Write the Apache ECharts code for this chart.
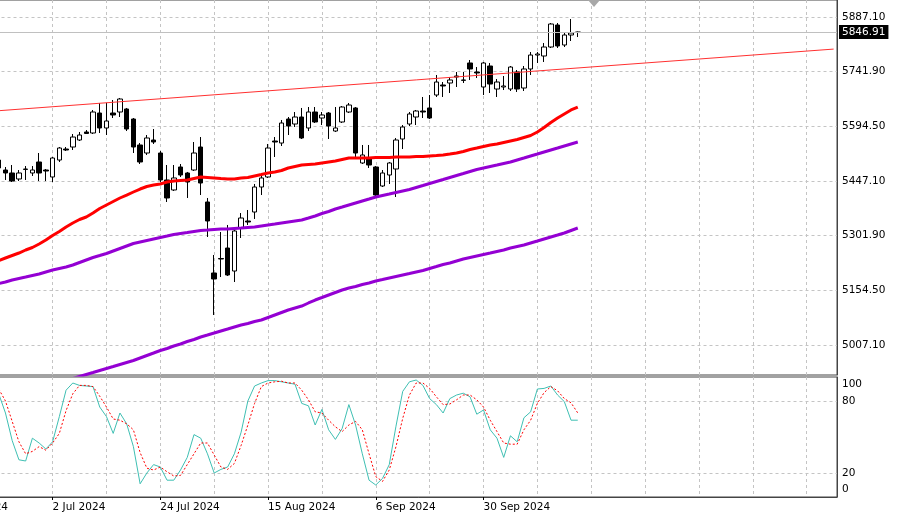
<!DOCTYPE html>
<html><head><meta charset="utf-8">
<script src="https://cdn.jsdelivr.net/npm/echarts@6/dist/echarts.min.js"></script>
<style>html,body{margin:0;padding:0;background:#fff}#c{width:900px;height:521px}</style>
</head><body><div id="c"></div>
<script>
// ---- categories ----
const startDate = '2024-06-10';
const categoryCount = 133;
const firstBarIndex = 8; // first visible candle: 20 Jun 2024

// ---- candles (20 Jun 2024 .. 18 Oct 2024) ----
const opens = [5503.4,5476.6,5468.6,5452.5,5478.0,5468.6,5498.1,5476.6,5457.9,5503.4,
5532.9,5538.3,5557.1,5578.6,5575.9,5629.5,5589.3,5629.5,5632.2,5640.3,
5613.4,5543.7,5522.2,5557.1,5522.2,5449.8,5423.0,5484.7,5468.6,5476.6,
5538.3,5390.8,5200.3,5239.2,5267.3,5205.6,5321.0,5339.8,5363.9,5431.0,
5457.9,5554.4,5549.0,5613.4,5600.0,5618.8,5589.3,5632.2,5616.1,5629.5,
5581.2,5605.4,5632.2,5643.0,5495.4,5506.1,5484.7,5433.7,5463.2,5479.3,
5559.8,5600.0,5618.8,5634.9,5643.0,5677.8,5704.7,5710.0,5726.1,5718.1,
5763.7,5739.5,5699.3,5755.6,5693.9,5699.3,5693.9,5739.5,5696.6,5747.6,
5785.1,5782.5,5806.6,5865.6,5812.0,5838.8,5845.5];
const closes = [5482.0,5468.6,5447.1,5468.6,5479.3,5476.6,5468.6,5473.9,5508.8,5535.6,
5530.3,5565.1,5570.5,5574.6,5632.2,5589.3,5608.1,5624.2,5667.1,5586.6,
5538.3,5498.1,5562.5,5551.7,5449.8,5401.5,5455.2,5463.2,5444.4,5522.2,
5441.7,5339.8,5184.2,5237.8,5194.9,5313.0,5347.8,5337.1,5431.0,5455.2,
5535.6,5551.7,5602.7,5594.7,5618.8,5562.5,5632.2,5605.4,5624.2,5594.7,
5589.3,5645.6,5651.0,5522.2,5516.9,5490.0,5409.5,5468.6,5495.4,5557.1,
5592.0,5626.9,5634.9,5632.2,5616.1,5712.7,5702.0,5718.1,5728.8,5717.2,
5747.6,5736.9,5763.7,5707.3,5712.7,5702.0,5752.9,5693.9,5747.6,5785.1,
5787.8,5806.6,5868.3,5809.3,5838.8,5844.2,5846.91];
const lows = [5476.6,5449.8,5444.4,5447.1,5449.8,5460.5,5447.1,5447.1,5444.4,5498.1,
5527.6,5530.3,5554.4,5573.2,5573.2,5575.9,5570.5,5616.1,5618.8,5581.2,
5522.2,5492.7,5516.9,5546.4,5444.4,5390.8,5420.3,5457.9,5401.5,5473.9,
5409.5,5296.9,5087.6,5189.5,5192.2,5176.1,5294.2,5329.1,5345.2,5409.5,
5455.2,5511.5,5541.0,5570.5,5592.0,5559.8,5581.2,5602.7,5597.3,5559.8,
5578.6,5602.7,5629.5,5511.5,5492.7,5482.0,5401.5,5431.0,5439.1,5404.2,
5532.9,5594.7,5597.3,5616.1,5613.4,5672.5,5672.5,5683.2,5699.3,5710.0,
5718.1,5723.4,5677.8,5683.2,5672.5,5691.2,5688.6,5685.9,5688.6,5731.5,
5763.7,5766.4,5803.9,5803.9,5806.6,5822.7,5833.4];
const highs = [5511.5,5484.7,5490.0,5476.6,5487.3,5487.3,5522.2,5479.3,5511.5,5538.3,
5538.3,5573.2,5578.6,5583.9,5637.6,5656.4,5656.4,5664.4,5669.8,5643.0,
5616.1,5549.0,5570.5,5586.6,5527.6,5490.0,5490.0,5492.7,5471.3,5551.7,
5565.1,5401.5,5248.6,5310.3,5329.1,5323.7,5361.2,5369.3,5439.1,5463.2,
5546.4,5565.1,5610.8,5618.8,5632.2,5643.0,5645.6,5645.6,5632.2,5632.2,
5645.6,5648.3,5656.4,5645.6,5543.7,5543.7,5487.3,5476.6,5498.1,5562.5,
5597.3,5632.2,5637.6,5672.5,5677.8,5731.5,5712.7,5726.1,5739.5,5739.5,
5771.7,5752.9,5766.4,5763.7,5720.8,5728.8,5755.6,5744.9,5755.6,5793.2,
5793.2,5817.3,5871.0,5871.0,5844.2,5881.7,5848.0];

// ---- moving averages ----
const maRed = [5233.8,5240.5,5247.2,5253.9,5262.0,5268.7,5278.1,5288.8,5300.9,5311.6,
5323.7,5334.4,5343.8,5350.5,5361.3,5373.3,5382.7,5392.1,5401.5,5409.5,
5417.6,5425.6,5432.4,5436.4,5439.1,5444.4,5447.1,5448.5,5449.8,5453.8,
5457.8,5456.5,5455.2,5453.8,5452.5,5452.5,5455.2,5456.5,5460.5,5464.5,
5468.6,5471.3,5475.3,5482.0,5486.0,5490.0,5491.4,5492.7,5495.4,5498.1,
5500.8,5504.8,5508.8,5508.8,5508.8,5508.8,5510.2,5510.2,5510.2,5511.5,
5511.5,5511.5,5512.8,5512.8,5514.2,5515.5,5516.9,5519.5,5522.2,5526.3,
5531.6,5535.6,5539.7,5543.7,5546.4,5550.4,5554.4,5558.4,5563.8,5569.2,
5578.6,5590.6,5604.1,5616.1,5626.9,5637.6,5645.6];
const maPurpleFast = [5172.1,5176.1,5181.5,5185.5,5189.5,5193.6,5197.6,5203.0,5208.3,5212.4,
5216.4,5221.7,5228.5,5235.2,5241.9,5247.2,5252.6,5259.3,5266.0,5272.7,
5279.4,5283.5,5287.5,5291.5,5295.5,5299.5,5303.6,5306.3,5308.9,5311.6,
5314.3,5315.6,5317.0,5318.3,5318.3,5319.7,5321.0,5322.4,5323.7,5326.4,
5329.1,5331.7,5334.4,5337.1,5339.8,5342.5,5347.8,5353.2,5359.9,5365.3,
5372.0,5377.3,5382.7,5388.1,5393.5,5398.8,5404.2,5408.2,5412.2,5416.3,
5420.3,5424.3,5429.7,5435.0,5440.4,5445.8,5451.1,5456.5,5461.9,5467.2,
5472.6,5478.0,5482.0,5486.0,5490.0,5494.1,5498.1,5503.5,5508.8,5514.2,
5519.5,5524.9,5530.3,5535.6,5541.0,5546.4,5551.7];
const maPurpleSlowOffset = 11; // starts 11 bars after the first candle
const maPurpleSlow = [4917.2,4922.6,4928.0,4933.3,4938.7,4944.1,4949.4,4954.8,4960.2,4965.5,
4972.2,4978.9,4985.6,4992.4,4997.7,5004.4,5009.8,5016.5,5021.9,5028.6,
5033.9,5039.3,5044.7,5050.0,5055.4,5060.8,5064.8,5070.2,5074.2,5080.9,
5087.6,5094.3,5101.0,5106.4,5111.7,5119.8,5127.8,5134.5,5141.3,5148.0,
5154.7,5160.0,5164.1,5169.4,5173.5,5178.8,5182.8,5186.9,5190.9,5194.9,
5198.9,5203.0,5207.0,5212.4,5217.7,5223.1,5227.1,5232.5,5237.8,5241.9,
5245.9,5249.9,5253.9,5258.0,5262.0,5267.4,5271.4,5275.4,5280.8,5286.1,
5291.5,5296.9,5302.2,5307.6,5314.3,5321.0];

// ---- trend line anchors ----
const trendDates = ['2024-06-10', '2024-12-11'];
const trendValues = [5625.0, 5801.0];

// ---- stochastic ----
const stochMain = [86,70,47,31,30,49,45,40,46,67,
89,95,93,92.5,92,75,67,53,70,61,
42,11,20,27,25,14,14,22.5,33,52,
49,36,20,23,25,36,54,80,92.5,95,
97,97,96,95,94,78,76,60,73,56,
48,57,77,60,36,14,10,15.5,27,59,
88,96,97.5,93,82,77,70,82,85,86.5,
83.5,69,72.5,56,49,33,51,46,66,71,
90,90.5,92.5,85,79.5,64,64];
const stochSignal = [90,80,63,46,36,38,42,39,45,53,
72,86,93,93,92,84,75,65,64,61,
56,37,24,22.5,25,21,17.5,18,27,36,
45,45,35,25,23,28,43,60,78,92,
95,96,96.5,95,95,89,81,71,70,64,
58.5,54.5,60,63,56,36,17,13,22.5,42,
65.5,85,95,95,90.5,83.5,77,77.5,81,85,
85,81,75,64,54.5,45,44,44,56,64,
78,87,92,88.5,82,78.5,70];

// ---- axis ticks ----
const priceTicks = [5887.10, 5741.90, 5594.50, 5447.10, 5301.90, 5154.50, 5007.10];
const stochLabels = [0, 20, 80, 100];
const stochLevels = [20, 80];
const lastPrice = 5846.91;

// ---- build ----
const dates = [];
(function () {
  const d = new Date(startDate + 'T00:00:00Z');
  while (dates.length < categoryCount) {
    const wd = d.getUTCDay();
    if (wd !== 0 && wd !== 6) dates.push(d.toISOString().slice(0, 10));
    d.setUTCDate(d.getUTCDate() + 1);
  }
})();
const lastDataIndex = firstBarIndex + opens.length - 1;
const MONTHS = ['Jan','Feb','Mar','Apr','May','Jun','Jul','Aug','Sep','Oct','Nov','Dec'];
function fmtDate(v) {
  const p = v.split('-');
  return (+p[2]) + ' ' + MONTHS[+p[1] - 1] + ' ' + p[0];
}
const candleData = opens.map((o, k) => [dates[firstBarIndex + k], o, closes[k], lows[k], highs[k]]);
function pairs(arr, offset) { return arr.map((v, k) => [dates[offset + k], v]); }

const FONT = 'DejaVu Sans';
const FS = 10.5;
const gridLine = { color: '#c4c4c4', type: [3, 3], width: 1 };
const LEFT = -58.5, RIGHT = 63;
const labelInterval = (i) => i % 16 === 0 && i <= lastDataIndex;
const gridInterval = (i) => i % 8 === 0;

const chart = echarts.init(document.getElementById('c'), null, { renderer: 'canvas' });
chart.setOption({
  animation: false,
  backgroundColor: '#fff',
  grid: [
    { left: LEFT, right: RIGHT, top: 0, bottom: 146, show: true, borderColor: '#444', borderWidth: 1, backgroundColor: '#fff', outerBoundsMode: 'none' },
    { left: LEFT, right: RIGHT, top: 377, bottom: 24, show: true, borderColor: '#444', borderWidth: 1, backgroundColor: '#fff', outerBoundsMode: 'none' }
  ],
  xAxis: [
    { type: 'category', gridIndex: 0, data: dates, boundaryGap: true,
      axisLine: { show: false }, axisLabel: { show: false },
      axisTick: { show: true, inside: true, length: 375, alignWithLabel: true, interval: gridInterval, lineStyle: gridLine },
      splitLine: { show: false } },
    { type: 'category', gridIndex: 1, data: dates, boundaryGap: true, position: 'bottom',
      axisLine: { show: true, lineStyle: { color: '#444' } },
      axisTick: { show: true, length: 3, alignWithLabel: true, interval: labelInterval, lineStyle: { color: '#000' } },
      axisLabel: { show: true, interval: labelInterval, formatter: fmtDate, align: 'left', margin: 5, fontFamily: FONT, fontSize: FS, color: '#000' },
      splitLine: { show: false } },
    { type: 'category', gridIndex: 1, data: dates, boundaryGap: true, position: 'top',
      axisLine: { show: false }, axisLabel: { show: false },
      axisTick: { show: true, inside: true, length: 120, alignWithLabel: true, interval: gridInterval, lineStyle: gridLine },
      splitLine: { show: false } }
  ],
  yAxis: [
    { type: 'value', gridIndex: 0, position: 'right', min: 4926.62, max: 5932.71, scale: true,
      axisLine: { show: true, lineStyle: { color: '#444' } },
      axisTick: { show: false, customValues: priceTicks },
      axisLabel: { customValues: priceTicks, formatter: (v) => v.toFixed(2), margin: 5, fontFamily: FONT, fontSize: FS, color: '#000' },
      splitLine: { show: true, lineStyle: gridLine } },
    { type: 'value', gridIndex: 1, position: 'right', min: 0, max: 100,
      axisLine: { show: true, lineStyle: { color: '#444' } },
      axisTick: { show: false, customValues: stochLevels },
      axisLabel: { customValues: stochLabels, margin: 5, fontFamily: FONT, fontSize: FS, color: '#000',
        formatter: (v) => v === 100 ? '{top|100}' : (v === 0 ? '{bot|0}' : '{mid|' + v + '}'),
        rich: {
          top: { padding: [14, 0, 0, 0], fontFamily: FONT, fontSize: FS, color: '#000' },
          bot: { padding: [0, 0, 16, 0], fontFamily: FONT, fontSize: FS, color: '#000' },
          mid: { fontFamily: FONT, fontSize: FS, color: '#000' }
        } },
      splitLine: { show: true, lineStyle: gridLine } }
  ],
  graphic: [
    { type: 'polygon', shape: { points: [[588, 0], [600, 0], [594, 7]] }, style: { fill: '#a8a8a8' }, z: 100 }
  ],
  series: [
    { type: 'candlestick', xAxisIndex: 0, yAxisIndex: 0, data: candleData,
      encode: { x: 0, y: [1, 2, 3, 4] }, barWidth: 5,
      itemStyle: { color: '#fff', color0: '#000', borderColor: '#000', borderColor0: '#000', borderColorDoji: '#000', borderWidth: 1 },
      markLine: { silent: true, symbol: ['none', 'none'], animation: false,
        lineStyle: { color: '#c0c0c0', type: 'solid', width: 1 },
        label: { show: true, position: 'end', distance: 2, formatter: () => lastPrice.toFixed(2),
          backgroundColor: '#000', color: '#fff', padding: [2, 3, 1, 3], fontFamily: FONT, fontSize: FS },
        data: [{ yAxis: lastPrice }] },
      z: 2 },
    { type: 'line', xAxisIndex: 0, yAxisIndex: 0, data: pairs(maRed, firstBarIndex), showSymbol: false,
      lineStyle: { color: '#ff0000', width: 3 }, z: 3 },
    { type: 'line', xAxisIndex: 0, yAxisIndex: 0, data: pairs(maPurpleFast, firstBarIndex), showSymbol: false,
      lineStyle: { color: '#9400d3', width: 3 }, z: 3 },
    { type: 'line', xAxisIndex: 0, yAxisIndex: 0, data: pairs(maPurpleSlow, firstBarIndex + maPurpleSlowOffset), showSymbol: false,
      lineStyle: { color: '#9400d3', width: 3 }, z: 3 },
    { type: 'line', xAxisIndex: 0, yAxisIndex: 0, data: trendDates.map((d, i) => [d, trendValues[i]]), showSymbol: false,
      lineStyle: { color: '#ff3030', width: 1 }, z: 3 },
    { type: 'line', xAxisIndex: 1, yAxisIndex: 1, data: pairs(stochMain, firstBarIndex), showSymbol: false,
      lineStyle: { color: '#3fbfb3', width: 1 }, z: 3 },
    { type: 'line', xAxisIndex: 1, yAxisIndex: 1, data: pairs(stochSignal, firstBarIndex), showSymbol: false,
      lineStyle: { color: '#ff0000', width: 1, type: [2, 2] }, z: 3 }
  ]
});
</script></body></html>
